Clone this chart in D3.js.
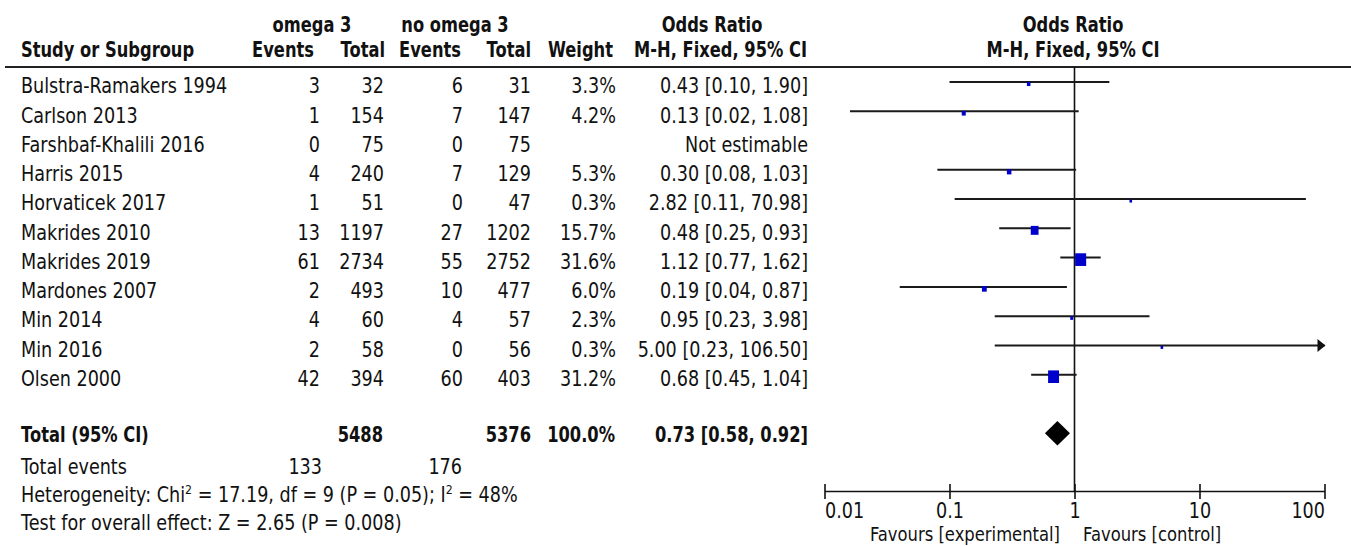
<!DOCTYPE html>
<html>
<head>
<meta charset="utf-8">
<script src="https://cdn.jsdelivr.net/npm/d3@7"></script>
<style>
  html, body { margin: 0; padding: 0; background: #fff; }
  svg { display: block; }
</style>
</head>
<body>
<svg id="chart" width="1351" height="546"></svg>
<script>
// Omega-3 vs no omega-3: Mantel-Haenszel fixed-effect odds ratios
const studies = ["Bulstra-Ramakers 1994", "Carlson 2013", "Farshbaf-Khalili 2016", "Harris 2015",
  "Horvaticek 2017", "Makrides 2010", "Makrides 2019", "Mardones 2007", "Min 2014", "Min 2016", "Olsen 2000"];
const omegaEvents   = [3, 1, 0, 4, 1, 13, 61, 2, 4, 2, 42];
const omegaTotal    = [32, 154, 75, 240, 51, 1197, 2734, 493, 60, 58, 394];
const controlEvents = [6, 7, 0, 7, 0, 27, 55, 10, 4, 0, 60];
const controlTotal  = [31, 147, 75, 129, 47, 1202, 2752, 477, 57, 56, 403];
const weights       = [3.3, 4.2, null, 5.3, 0.3, 15.7, 31.6, 6.0, 2.3, 0.3, 31.2];
const oddsRatio     = [0.43, 0.13, null, 0.30, 2.82, 0.48, 1.12, 0.19, 0.95, 5.00, 0.68];
const ciLower       = [0.10, 0.016, null, 0.08, 0.11, 0.25, 0.77, 0.04, 0.23, 0.23, 0.45];
const ciUpper       = [1.90, 1.08, null, 1.03, 70.98, 0.93, 1.62, 0.87, 3.98, 106.50, 1.04];

const totalWeight = 100.0;
const pooledOR = 0.73, pooledLower = 0.58, pooledUpper = 0.92;
const axisTicks = [0.01, 0.1, 1, 10, 100];
const heterogeneity = { chi2: "17.19", df: "9", p: "0.05", i2: "48%" };
const overallEffect = { z: "2.65", p: "0.008" };

const svg = d3.select("#chart");
const FONT = "'DejaVu Sans', 'Lucida Grande', sans-serif";
const INK = "#111";
const f2 = d3.format(".2f");
const f1 = d3.format(".1f");

// text helper: slightly tall letterforms
function label(x, y, str, anchor = "start", bold = false, size) {
  const fs = size || (bold ? 16.3 : 17.6);
  const sy = bold ? 1.26 : 1.16;
  return svg.append("text")
    .attr("transform", `translate(${x},${y}) scale(1,${sy})`)
    .attr("text-anchor", anchor)
    .attr("font-family", FONT)
    .attr("font-size", fs)
    .attr("font-weight", bold ? "bold" : "normal")
    .attr("fill", INK)
    .text(str);
}

// scales
const x = d3.scaleLog().domain([0.01, 100]).range([824.5, 1324.5]);
const y = d3.scalePoint().domain(studies).range([82, 374.7]);
const boxSide = d3.scaleSqrt().domain([0, 100]).range([0, 19.6]);

const rows = studies.map((s, i) => ({
  study: s, ee: omegaEvents[i], et: omegaTotal[i], ce: controlEvents[i], ct: controlTotal[i],
  w: weights[i], or: oddsRatio[i], lo: ciLower[i], hi: ciUpper[i]
}));

// column header
label(312, 32, "omega 3", "middle", true);
label(455, 32, "no omega 3", "middle", true);
label(712, 32, "Odds Ratio", "middle", true);
label(1073, 32, "Odds Ratio", "middle", true);
label(21, 57, "Study or Subgroup", "start", true);
label(314, 57, "Events", "end", true);
label(385, 57, "Total", "end", true);
label(461, 57, "Events", "end", true);
label(531, 57, "Total", "end", true);
label(613, 57, "Weight", "end", true);
label(807, 57, "M-H, Fixed, 95% CI", "end", true);
label(1073, 57, "M-H, Fixed, 95% CI", "middle", true);

svg.append("line").attr("x1", 5).attr("x2", 1351).attr("y1", 67).attr("y2", 67)
  .attr("stroke", "#222").attr("stroke-width", 2);

// study rows
rows.forEach(r => {
  const base = y(r.study) + 11.3;
  label(21, base, r.study);
  label(320, base, r.ee, "end");
  label(384, base, r.et, "end");
  label(463, base, r.ce, "end");
  label(531, base, r.ct, "end");
  if (r.w != null) label(616, base, f1(r.w) + "%", "end");
  label(808, base, r.or == null ? "Not estimable" : `${f2(r.or)} [${f2(r.lo)}, ${f2(r.hi)}]`, "end");
});

// total rows
const totalBase = 441.7;
label(21, totalBase, "Total (95% CI)", "start", true);
label(383, totalBase, d3.sum(omegaTotal), "end", true);
label(531, totalBase, d3.sum(controlTotal), "end", true);
label(615, totalBase, f1(totalWeight) + "%", "end", true);
label(808, totalBase, `${f2(pooledOR)} [${f2(pooledLower)}, ${f2(pooledUpper)}]`, "end", true);

label(21, 474, "Total events");
label(322, 474, d3.sum(omegaEvents), "end");
label(462, 474, d3.sum(controlEvents), "end");

const het = label(21, 502.3, "Heterogeneity: Chi");
het.append("tspan").attr("font-size", 11).attr("dy", -7).text("2");
het.append("tspan").attr("dy", 7).text(` = ${heterogeneity.chi2}, df = ${heterogeneity.df} (P = ${heterogeneity.p}); I`);
het.append("tspan").attr("font-size", 11).attr("dy", -7).text("2");
het.append("tspan").attr("dy", 7).text(` = ${heterogeneity.i2}`);

label(21, 530, `Test for overall effect: Z = ${overallEffect.z} (P = ${overallEffect.p})`);

// forest plot
const axisY = 491;
svg.append("line").attr("x1", x(1)).attr("x2", x(1)).attr("y1", 67).attr("y2", axisY)
  .attr("stroke", "#111").attr("stroke-width", 1.6);

const plotted = rows.filter(r => r.or != null);
const [dMin, dMax] = x.domain();

svg.append("g").selectAll("line").data(plotted).join("line")
  .attr("x1", d => x(Math.max(d.lo, dMin)))
  .attr("x2", d => x(Math.min(d.hi, dMax)))
  .attr("y1", d => y(d.study)).attr("y2", d => y(d.study))
  .attr("stroke", "#1a1a1a").attr("stroke-width", 2);

// arrow where the interval runs past the axis
svg.append("g").selectAll("path").data(plotted.filter(d => d.hi > dMax)).join("path")
  .attr("d", d => {
    const xe = x(dMax) + 1, yc = y(d.study);
    return `M${xe},${yc} L${xe - 8},${yc - 6.5} L${xe - 8},${yc + 6.5} Z`;
  })
  .attr("fill", "#111");

svg.append("g").selectAll("rect").data(plotted).join("rect")
  .attr("x", d => x(d.or) - Math.max(2.6, boxSide(d.w)) / 2)
  .attr("width", d => Math.max(2.6, boxSide(d.w)))
  .attr("y", d => y(d.study) + 2 - Math.max(2.6, boxSide(d.w)) * 1.15 / 2)
  .attr("height", d => Math.max(2.6, boxSide(d.w)) * 1.15)
  .attr("fill", "#0000cc");

// pooled estimate diamond
const dy = 433.3;
svg.append("path")
  .attr("d", `M${x(pooledLower)},${dy} L${x(pooledOR)},${dy - 12.3} L${x(pooledUpper)},${dy} L${x(pooledOR)},${dy + 12.3} Z`)
  .attr("fill", "#000");

// log axis
const axis = svg.append("g").attr("transform", `translate(0,${axisY})`)
  .call(d3.axisBottom(x).tickValues(axisTicks).tickFormat(d => String(d)).tickSizeOuter(0).tickSizeInner(8));
axis.select(".domain").attr("stroke", "#111").attr("stroke-width", 1.6);
axis.selectAll(".tick line").attr("y1", -7).attr("y2", 8).attr("stroke", "#111").attr("stroke-width", 1.6);
axis.selectAll(".tick text")
  .attr("y", null).attr("dy", null)
  .attr("transform", "translate(0,27.3) scale(1,1.16)")
  .attr("font-family", FONT).attr("font-size", 17.6).attr("fill", INK)
  .attr("text-anchor", (d, i, n) => i === 0 ? "start" : (i === n.length - 1 ? "end" : "middle"));

label(x(1) - 14.5, 541, "Favours [experimental]", "end", false, 16.4);
label(x(1) + 8.5, 541, "Favours [control]", "start", false, 16.4);
</script>
</body>
</html>
